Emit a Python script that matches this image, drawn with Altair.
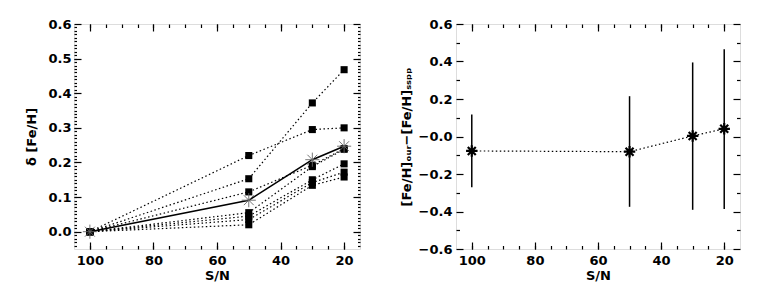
import altair as alt
import pandas as pd
import numpy as np

# ---------------- data ----------------
sn = [100, 50, 30, 20]
series_names = ["s1", "s2", "s3", "s4", "s5", "s6", "s7"]
s1 = [0.0, 0.220, 0.295, 0.300]
s2 = [0.0, 0.153, 0.372, 0.468]
s3 = [0.0, 0.115, 0.192, 0.240]
s4 = [0.0, 0.055, 0.188, 0.238]
s5 = [0.0, 0.045, 0.150, 0.196]
s6 = [0.0, 0.035, 0.142, 0.172]
s7 = [0.0, 0.020, 0.134, 0.158]
mean_delta = [0.0, 0.091, 0.208, 0.247]

diff = [-0.077, -0.081, 0.003, 0.041]
diff_lo = [-0.271, -0.375, -0.391, -0.386]
diff_hi = [0.117, 0.215, 0.395, 0.466]

x_major = [100, 80, 60, 40, 20]
x_minor = [20, 25, 30, 35, 40, 45, 50, 55, 60, 65, 70, 75, 80, 85, 90, 95, 100]
yl_major = [0.0, 0.1, 0.2, 0.3, 0.4, 0.5, 0.6]
yl_minor = [round(v, 2) for v in np.arange(-0.04, 0.6, 0.01)]
yr_major = [-0.6, -0.4, -0.2, 0.0, 0.2, 0.4, 0.6]
yr_minor = [-0.5, -0.3, -0.1, 0.1, 0.3, 0.5]

vals = [s1, s2, s3, s4, s5, s6, s7]
rows = []
for name, v in zip(series_names, vals):
    for x, y in zip(sn, v):
        rows.append({"sn": x, "v": y, "series": name})
df_series = pd.DataFrame(rows)
df_mean = pd.DataFrame({"sn": sn, "v": mean_delta})
df_diff = pd.DataFrame({"sn": sn, "v": diff, "lo": diff_lo, "hi": diff_hi})

FONT = "DejaVu Sans"
W_L, W_R, H = 286, 284, 225

xs = alt.Scale(domain=[105, 15], nice=False, zero=False)
ysl = alt.Scale(domain=[-0.05, 0.6], nice=False, zero=False)
ysr = alt.Scale(domain=[-0.6, 0.6], nice=False, zero=False)

STAR = "M -1 0 L 1 0 M 0 -1 L 0 1 M -0.7 -0.7 L 0.7 0.7 M -0.7 0.7 L 0.7 -0.7"


def lab_axis(orient, title, values, label_expr, lpad, tpad):
    return alt.Axis(orient=orient, title=title, values=values, labelExpr=label_expr,
                    ticks=False, domain=False, grid=False, labelPadding=lpad,
                    titlePadding=tpad, labelFont=FONT, labelFontSize=13,
                    labelFontWeight="bold", labelColor="black", titleFont=FONT,
                    titleFontSize=13, titleFontWeight="bold", titleColor="black",
                    labelFlush=False, labelOverlap=False)


def tick_axis(orient, values, size):
    return alt.Axis(orient=orient, values=values, labels=False, ticks=True,
                    tickSize=size, offset=-size, domain=False, grid=False,
                    title=None, tickColor="black", tickWidth=1.2)


def axis_layers(df, xfield, yfield, ys, x_lab, y_lab, y_major, y_minor, y_minor_size):
    pairs = [
        (x_lab, y_lab),
        (tick_axis("bottom", x_major, 7), tick_axis("left", y_major, 7)),
        (tick_axis("bottom", x_minor, 3.5), tick_axis("left", y_minor, y_minor_size)),
        (tick_axis("top", x_major, 7), tick_axis("right", y_major, 7)),
        (tick_axis("top", x_minor, 3.5), tick_axis("right", y_minor, y_minor_size)),
    ]
    out = []
    for ax, ay in pairs:
        out.append(alt.Chart(df).mark_point(opacity=0).encode(
            x=alt.X(f"{xfield}:Q", scale=xs, axis=ax),
            y=alt.Y(f"{yfield}:Q", scale=ys, axis=ay)))
    return out


# ---------------- left panel ----------------
lines_l = alt.Chart(df_series).mark_line(color="black", strokeWidth=1.2, strokeDash=[1.5, 2.5]).encode(
    x=alt.X("sn:Q", scale=xs, axis=None),
    y=alt.Y("v:Q", scale=ysl, axis=None),
    detail="series:N")
squares = alt.Chart(df_series).mark_point(shape="square", filled=True, color="black", size=50, opacity=1).encode(
    x=alt.X("sn:Q", scale=xs, axis=None),
    y=alt.Y("v:Q", scale=ysl, axis=None))
mean_line = alt.Chart(df_mean).mark_line(color="black", strokeWidth=1.6).encode(
    x=alt.X("sn:Q", scale=xs, axis=None),
    y=alt.Y("v:Q", scale=ysl, axis=None))
mean_star = alt.Chart(df_mean).mark_point(shape=STAR, filled=False, color="#666666", size=200,
                                          strokeWidth=0.9, opacity=1).encode(
    x=alt.X("sn:Q", scale=xs, axis=None),
    y=alt.Y("v:Q", scale=ysl, axis=None))

axes_l = axis_layers(
    df_mean, "sn", "v", ysl,
    lab_axis("bottom", "S/N", x_major, "format(datum.value, 'd')", 5, 2),
    lab_axis("left", "δ [Fe/H]", yl_major, "format(datum.value, '.1f')", 3, 9),
    yl_major, yl_minor, 2.5)

left = alt.layer(*axes_l, lines_l, squares, mean_line, mean_star).resolve_axis(
    x="independent", y="independent").properties(width=W_L, height=H)

# ---------------- right panel ----------------
err = alt.Chart(df_diff).mark_rule(color="black", strokeWidth=1.5).encode(
    x=alt.X("sn:Q", scale=xs, axis=None),
    y=alt.Y("lo:Q", scale=ysr, axis=None),
    y2="hi:Q")
line_r = alt.Chart(df_diff).mark_line(color="black", strokeWidth=1.2, strokeDash=[1.5, 2.5]).encode(
    x=alt.X("sn:Q", scale=xs, axis=None),
    y=alt.Y("v:Q", scale=ysr, axis=None))
star_r = alt.Chart(df_diff).mark_point(shape=STAR, filled=False, color="black", size=130,
                                       strokeWidth=2.2, opacity=1).encode(
    x=alt.X("sn:Q", scale=xs, axis=None),
    y=alt.Y("v:Q", scale=ysr, axis=None))

axes_r = axis_layers(
    df_diff, "sn", "v", ysr,
    lab_axis("bottom", "S/N", x_major, "format(datum.value, 'd')", 5, 2),
    lab_axis("left", "[Fe/H]ₒᵤᵣ−[Fe/H]ₛₛₚₚ", yr_major,
             "datum.value == 0 ? '−0.0' : format(datum.value, '.1f')", 4, 5),
    yr_major, yr_minor, 3.5)

right = alt.layer(*axes_r, err, line_r, star_r).resolve_axis(
    x="independent", y="independent").properties(width=W_R, height=H)

chart = alt.hconcat(left, right, spacing=37).properties(
    padding={"left": 17, "top": 9, "right": 5, "bottom": 5}
).configure_view(stroke="black", strokeWidth=2).configure(background="white")

chart.save("out.html", embed_options={"renderer": "svg", "actions": False})
